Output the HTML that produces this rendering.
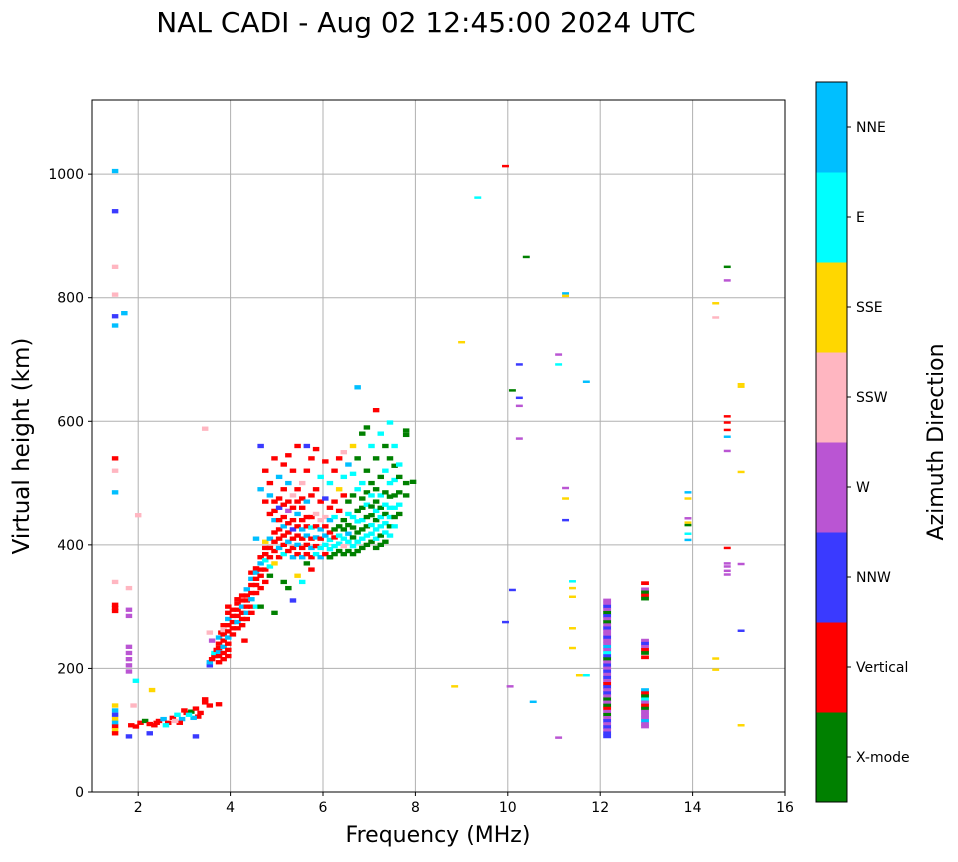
<!DOCTYPE html>
<html><head><meta charset="utf-8">
<style>
body{margin:0;background:#fff;font-family:"Liberation Sans","DejaVu Sans",sans-serif;}
svg text{font-family:"DejaVu Sans","Liberation Sans",sans-serif;}
</style></head>
<body>
<svg id="chart" width="958" height="857" xmlns="http://www.w3.org/2000/svg">
<text x="426" y="32" font-size="28" text-anchor="middle">NAL CADI - Aug 02 12:45:00 2024 UTC</text>
<g id="grid"></g>
<g id="marks"></g>
<rect x="92" y="100" width="693" height="692" fill="none" stroke="#000" stroke-width="1"/>
<g id="axes"></g>
<text x="438" y="842" font-size="22" text-anchor="middle">Frequency (MHz)</text>
<text transform="translate(29,446) rotate(-90)" font-size="23" text-anchor="middle">Virtual height (km)</text>
<g id="cbar"></g>
<text transform="translate(943,442) rotate(-90)" font-size="22" text-anchor="middle">Azimuth Direction</text>
</svg>
<script>
const dirNames=["X-mode","Vertical","NNW","W","SSW","SSE","E","NNE"];
const dirColors=["#008000","#ff0000","#3a3aff","#ba55d3","#ffb6c1","#ffd700","#00ffff","#00bfff"];
const xTicks=[2,4,6,8,10,12,14,16];
const yTicks=[0,200,400,600,800,1000];
// [freq MHz, height km, direction index] — narrow marks
const narrowObs=[
[1.5,1005,7],[1.5,940,2],[1.5,850,4],[1.5,805,4],[1.5,770,2],[1.5,755,7],[1.5,540,1],[1.5,520,4],[1.5,485,7],[1.5,340,4],[1.5,303,1],[1.5,298,1],[1.5,293,1],
[1.5,140,5],[1.5,132,7],[1.5,125,2],[1.5,118,5],[1.5,112,7],[1.5,106,1],[1.5,100,5],[1.5,95,1],[1.7,775,7],
[1.8,330,4],[1.8,295,3],[1.8,285,3],[1.8,235,3],[1.8,225,3],[1.8,215,3],[1.8,205,3],[1.8,195,3],[1.8,90,2],[1.9,140,4],[1.95,180,6],[2.0,448,4],
[1.85,108,1],[1.95,106,1],[2.05,112,1],[2.15,115,0],[2.25,110,1],[2.35,108,1],[2.45,115,1],[2.55,118,7],[2.65,112,1],[2.75,120,1],[2.85,125,6],[2.95,118,7],[3.05,128,1],[3.15,130,0],[3.25,135,1],[3.35,128,1],[3.45,145,1],[3.55,140,1],[3.75,142,1],[3.3,122,1],[3.2,120,7],[3.1,125,6],[2.9,112,1],[2.6,108,6],[2.25,95,2],[2.3,165,5],[3.25,90,2],[3.45,150,1],[3.0,132,1],[2.8,115,4],[2.4,112,1],
[3.45,588,4],[3.55,205,2],[3.55,210,7],[3.6,215,1],[3.65,220,1],[3.65,225,6],[3.7,230,1],[3.6,245,3],[3.55,258,4],
[3.75,210,1],[3.75,220,1],[3.75,227,7],[3.75,233,1],[3.75,240,1],[3.75,250,7],[3.8,258,1],
[3.85,215,1],[3.85,225,1],[3.85,235,7],[3.85,245,1],[3.85,255,1],[3.85,262,4],[3.85,270,1],
[3.95,220,1],[3.95,230,1],[3.95,240,1],[3.95,250,7],[3.95,260,1],[3.95,270,1],[3.95,280,7],[3.95,290,1],[3.95,300,1],
[4.05,255,1],[4.05,265,1],[4.05,275,1],[4.05,285,1],[4.05,295,1],
[4.15,265,1],[4.15,275,7],[4.15,285,1],[4.15,295,1],[4.15,305,1],[4.15,312,1],
[4.25,270,1],[4.25,280,1],[4.25,290,1],[4.25,300,7],[4.25,310,1],[4.25,318,1],[4.3,245,1],
[4.35,280,1],[4.35,290,7],[4.35,300,1],[4.35,310,1],[4.35,318,1],[4.35,328,7],
[4.45,290,1],[4.45,300,1],[4.45,312,7],[4.45,322,1],[4.45,335,1],[4.45,345,7],[4.45,355,1],
[4.55,300,6],[4.55,322,1],[4.55,335,1],[4.55,345,1],[4.55,355,7],[4.55,362,1],[4.55,410,7],
[4.65,300,0],[4.65,330,1],[4.65,350,1],[4.65,360,1],[4.65,370,7],[4.65,380,1],[4.65,560,2],[4.65,490,7],
[4.75,340,1],[4.75,360,1],[4.75,375,6],[4.75,385,1],[4.75,395,1],[4.75,405,5],[4.75,470,1],[4.75,520,1],
[4.85,350,0],[4.85,365,6],[4.85,380,1],[4.85,395,1],[4.85,410,7],[4.85,450,1],[4.85,480,7],[4.85,500,1],
[4.95,370,5],[4.95,390,1],[4.95,405,1],[4.95,420,1],[4.95,440,7],[4.95,455,1],[4.95,470,1],[4.95,540,1],[4.95,290,0],
[5.05,380,1],[5.05,395,7],[5.05,410,1],[5.05,425,1],[5.05,440,1],[5.05,460,2],[5.05,475,1],[5.05,510,7],
[5.15,385,6],[5.15,400,1],[5.15,415,1],[5.15,430,7],[5.15,445,1],[5.15,465,1],[5.15,490,1],[5.15,530,1],[5.15,340,0],
[5.25,390,1],[5.25,405,7],[5.25,420,1],[5.25,435,1],[5.25,455,3],[5.25,470,1],[5.25,500,7],[5.25,545,1],[5.25,330,0],
[5.35,380,7],[5.35,395,1],[5.35,410,1],[5.35,425,2],[5.35,440,1],[5.35,460,1],[5.35,480,4],[5.35,520,1],[5.35,310,2],
[5.45,385,1],[5.45,400,7],[5.45,415,1],[5.45,430,1],[5.45,450,7],[5.45,470,1],[5.45,490,1],[5.45,560,1],[5.45,350,5],
[5.55,380,7],[5.55,395,1],[5.55,410,1],[5.55,425,7],[5.55,440,1],[5.55,460,1],[5.55,475,1],[5.55,500,4],[5.55,340,6],
[5.65,385,1],[5.65,400,1],[5.65,415,7],[5.65,430,1],[5.65,445,1],[5.65,470,7],[5.65,520,1],[5.65,560,2],[5.65,370,0],
[5.75,380,1],[5.75,395,7],[5.75,410,1],[5.75,428,6],[5.75,445,1],[5.75,480,1],[5.75,540,1],[5.75,360,1],
[5.85,385,6],[5.85,398,1],[5.85,412,7],[5.85,430,1],[5.85,450,4],[5.85,490,1],[5.85,555,1],
[5.95,380,7],[5.95,395,6],[5.95,410,1],[5.95,425,7],[5.95,440,4],[5.95,470,1],[5.95,510,6],
[6.05,385,1],[6.05,400,6],[6.05,415,7],[6.05,430,1],[6.05,445,4],[6.05,475,2],[6.05,535,1],
[6.15,380,0],[6.15,393,6],[6.15,408,6],[6.15,420,1],[6.15,440,7],[6.15,460,1],[6.15,500,6],[6.15,380,0],
[6.25,385,0],[6.25,398,6],[6.25,412,1],[6.25,425,0],[6.25,445,6],[6.25,470,1],[6.25,520,1],
[6.35,390,0],[6.35,402,6],[6.35,415,6],[6.35,430,0],[6.35,455,1],[6.35,490,5],[6.35,540,1],
[6.45,385,0],[6.45,398,4],[6.45,410,6],[6.45,425,0],[6.45,440,0],[6.45,480,1],[6.45,510,6],[6.45,550,4],
[6.55,390,0],[6.55,405,6],[6.55,418,7],[6.55,432,0],[6.55,450,6],[6.55,470,0],[6.55,530,7],
[6.65,385,0],[6.65,398,6],[6.65,412,0],[6.65,428,0],[6.65,445,6],[6.65,480,0],[6.65,515,6],[6.65,560,5],
[6.75,390,0],[6.75,405,6],[6.75,420,0],[6.75,438,6],[6.75,455,0],[6.75,490,6],[6.75,540,0],[6.75,655,7],
[6.85,395,0],[6.85,410,6],[6.85,425,0],[6.85,440,6],[6.85,460,0],[6.85,475,0],[6.85,500,6],[6.85,580,0],
[6.95,400,0],[6.95,415,6],[6.95,430,0],[6.95,445,0],[6.95,465,6],[6.95,485,0],[6.95,520,0],[6.95,590,0],
[7.05,405,0],[7.05,418,6],[7.05,432,6],[7.05,448,0],[7.05,462,0],[7.05,480,6],[7.05,500,0],[7.05,560,6],
[7.15,395,0],[7.15,410,6],[7.15,425,6],[7.15,440,0],[7.15,455,6],[7.15,470,0],[7.15,490,0],[7.15,540,0],[7.15,618,1],
[7.25,400,0],[7.25,415,0],[7.25,430,6],[7.25,445,6],[7.25,460,0],[7.25,480,6],[7.25,510,0],[7.25,580,6],
[7.35,405,0],[7.35,420,6],[7.35,435,6],[7.35,450,0],[7.35,465,6],[7.35,485,0],[7.35,520,6],[7.35,560,0],
[7.45,415,6],[7.45,430,0],[7.45,445,6],[7.45,460,6],[7.45,478,0],[7.45,500,6],[7.45,540,0],[7.45,598,6],
[7.55,430,6],[7.55,445,0],[7.55,460,6],[7.55,480,0],[7.55,505,6],[7.55,528,0],[7.55,560,6],
[7.65,450,0],[7.65,465,6],[7.65,485,0],[7.65,510,0],[7.65,530,6],
[7.8,480,0],[7.8,500,0],[7.8,585,0],[7.8,578,0],[7.95,502,0]
];
// medium-width marks
const mediumObs=[
[9.0,728,5],[9.35,962,6],[9.95,1013,1],[9.95,275,2],[10.1,650,0],[10.1,327,2],[10.05,171,3],[10.25,692,2],[10.25,638,2],[10.25,625,3],[10.25,572,3],[10.4,866,0],[10.55,146,7],[8.85,171,5],
[11.1,708,3],[11.1,692,6],[11.1,88,3],[11.25,807,7],[11.25,803,5],[11.25,492,3],[11.25,475,5],[11.25,440,2],[11.4,341,6],[11.4,330,5],[11.4,316,5],[11.4,265,5],[11.4,233,5],[11.55,189,5],[11.7,189,6],[11.7,664,7],
[13.9,485,7],[13.9,475,5],[13.9,443,3],[13.9,436,5],[13.9,432,0],[13.9,418,6],[13.9,408,7],[14.5,791,5],[14.5,768,4],[14.5,216,5],[14.5,198,5],
[14.75,850,0],[14.75,828,3],[14.75,608,1],[14.75,598,1],[14.75,586,1],[14.75,575,7],[14.75,552,3],[14.75,395,1],[14.75,370,3],[14.75,365,3],[14.75,358,3],[14.75,352,3],
[15.05,660,5],[15.05,656,5],[15.05,518,5],[15.05,369,3],[15.05,261,2],[15.05,108,5]
];
// stacked columns at 12.15 MHz and 13.0 MHz
const columnObs=[
[12.15,310,3],[12.15,305,3],[12.15,300,2],[12.15,295,3],[12.15,290,0],[12.15,285,2],[12.15,280,3],[12.15,275,0],[12.15,270,3],[12.15,265,2],[12.15,260,3],[12.15,255,3],[12.15,250,2],[12.15,245,3],[12.15,240,3],[12.15,235,7],[12.15,230,3],[12.15,225,6],[12.15,220,2],[12.15,215,0],[12.15,210,3],[12.15,205,2],[12.15,200,3],[12.15,195,2],[12.15,190,3],[12.15,185,2],[12.15,180,3],[12.15,175,1],[12.15,170,2],[12.15,165,3],[12.15,160,2],[12.15,155,3],[12.15,150,0],[12.15,145,3],[12.15,140,0],[12.15,135,1],[12.15,130,3],[12.15,125,0],[12.15,120,3],[12.15,115,2],[12.15,110,3],[12.15,105,2],[12.15,100,3],[12.15,95,2],[12.15,90,2],
[12.97,338,1],[12.97,328,3],[12.97,323,0],[12.97,318,1],[12.97,313,0],[12.97,245,3],[12.97,240,2],[12.97,235,3],[12.97,230,1],[12.97,225,0],[12.97,218,1],
[12.97,165,7],[12.97,160,1],[12.97,155,0],[12.97,150,6],[12.97,145,3],[12.97,140,1],[12.97,135,0],[12.97,130,3],[12.97,125,3],[12.97,120,3],[12.97,115,7],[12.97,110,3],[12.97,106,3]
];
const NS="http://www.w3.org/2000/svg";
const X0=92,X1=785,Y0=792,Y1=100,XMIN=1,XMAX=16,YMIN=0,YMAX=1120;
function xs(v){return X0+(v-XMIN)/(XMAX-XMIN)*(X1-X0);}
function ys(v){return Y0-(v-YMIN)/(YMAX-YMIN)*(Y0-Y1);}
function mk(tag,attrs,parent){const e=document.createElementNS(NS,tag);for(const k in attrs)e.setAttribute(k,attrs[k]);parent.appendChild(e);return e;}
const grid=document.getElementById('grid'),axes=document.getElementById('axes'),marks=document.getElementById('marks'),cbar=document.getElementById('cbar');
xTicks.forEach(t=>{
  const x=xs(t);
  if(t<XMAX){const g=mk('line',{x1:x,x2:x,y1:Y1,y2:Y0,stroke:'#b0b0b0','stroke-width':1},grid);
  
  }
  mk('line',{x1:x,x2:x,y1:Y0,y2:Y0+4,stroke:'#000'},axes);
  const tx=mk('text',{x:x,y:Y0+20,'font-size':14,'text-anchor':'middle'},axes);tx.textContent=t;
  
  
});
yTicks.forEach(t=>{
  const y=ys(t);
  const g=mk('line',{x1:X0,x2:X1,y1:y,y2:y,stroke:'#b0b0b0','stroke-width':1},grid);
  
  
  mk('line',{x1:X0-4,x2:X0,y1:y,y2:y,stroke:'#000'},axes);
  const tx=mk('text',{x:X0-8,y:y+5,'font-size':14,'text-anchor':'end'},axes);tx.textContent=t;
  
  
});
function drawSet(arr,wMHz,hKm,name){
  arr.forEach(p=>{
    const x=xs(p[0]-wMHz/2),w=xs(p[0]+wMHz/2)-x,y=ys(p[1]+hKm/2),h=ys(p[1]-hKm/2)-y;
    const r=mk('rect',{x:x,y:y,width:w,height:h,fill:dirColors[p[2]]},marks);
    
    
  });
}
drawSet(narrowObs,0.14,7,'echo-mark');
drawSet(mediumObs,0.15,4,'echo-mark');
drawSet(columnObs,0.17,6,'echo-mark');
// colorbar
const CX=816,CW=31,CT=82,CB=802,seg=(CB-CT)/dirNames.length;
dirNames.forEach((n,i)=>{
  const y=CB-(i+1)*seg;
  const r=mk('rect',{x:CX,y:y,width:CW,height:seg+0.5,fill:dirColors[i]},cbar);
  
  
  mk('line',{x1:CX+CW,x2:CX+CW+4,y1:y+seg/2,y2:y+seg/2,stroke:'#000'},cbar);
  const tx=mk('text',{x:CX+CW+9,y:y+seg/2+5,'font-size':14},cbar);tx.textContent=n;
  
  
});
mk('rect',{x:CX,y:CT,width:CW,height:CB-CT,fill:'none',stroke:'#000','stroke-width':1},cbar);
</script>
</body></html>
